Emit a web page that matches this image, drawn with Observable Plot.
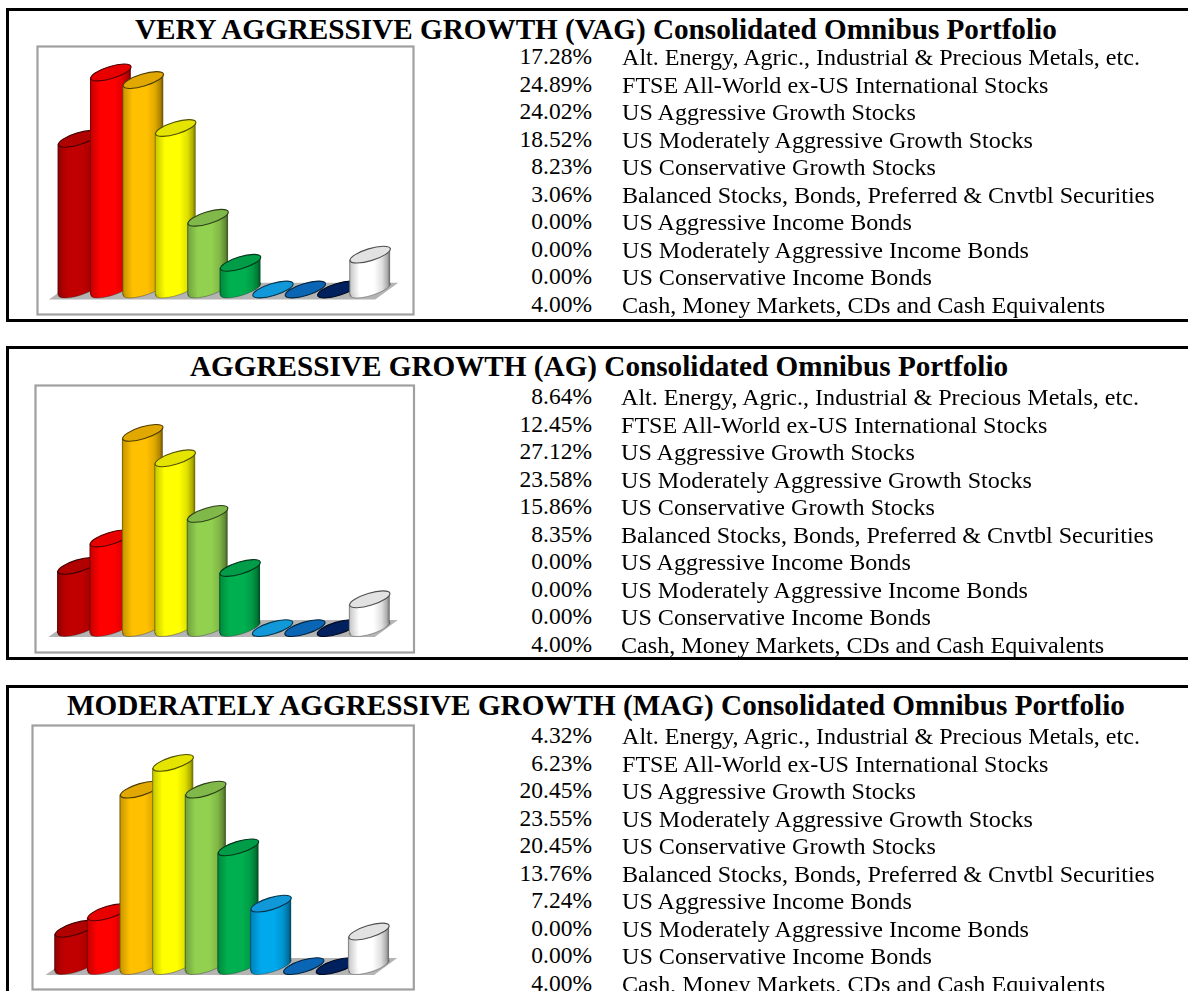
<!DOCTYPE html>
<html>
<head>
<meta charset="utf-8">
<script src="https://cdn.jsdelivr.net/npm/d3@7"></script>
<script src="https://cdn.jsdelivr.net/npm/@observablehq/plot@0.6"></script>
<style>
html,body{margin:0;padding:0;background:#fff;overflow:hidden;width:1188px;height:991px}
#page{position:relative;width:1188px;height:991px;overflow:hidden;font-family:"Liberation Serif",serif;color:#000}
.panel{position:absolute;left:6px;width:1300px;border:3px solid #000;box-sizing:border-box}
.title{position:absolute;font-weight:bold;white-space:nowrap;transform-origin:left center;line-height:1}
.row{position:absolute;white-space:nowrap;line-height:1;transform-origin:left center}
.pct{position:absolute;white-space:nowrap;line-height:1;text-align:right;transform-origin:right center}
.chart{position:absolute}
.chart svg{display:block;overflow:visible;filter:blur(0.45px)}
g[aria-label="rect"] rect{transform-box:fill-box;transform-origin:center;transform:skewY(-15.6deg)}
</style>
</head>
<body>
<div id="page"></div>
<script>
const categories = [
  "Alt. Energy, Agric., Industrial & Precious Metals, etc.",
  "FTSE All-World ex-US International Stocks",
  "US Aggressive Growth Stocks",
  "US Moderately Aggressive Growth Stocks",
  "US Conservative Growth Stocks",
  "Balanced Stocks, Bonds, Preferred & Cnvtbl Securities",
  "US Aggressive Income Bonds",
  "US Moderately Aggressive Income Bonds",
  "US Conservative Income Bonds",
  "Cash, Money Markets, CDs and Cash Equivalents"
];
const vagValues = [17.28, 24.89, 24.02, 18.52, 8.23, 3.06, 0, 0, 0, 4];
const agValues  = [8.64, 12.45, 27.12, 23.58, 15.86, 8.35, 0, 0, 0, 4];
const magValues = [4.32, 6.23, 20.45, 23.55, 20.45, 13.76, 7.24, 0, 0, 4];
const titles = [
  "VERY AGGRESSIVE GROWTH (VAG) Consolidated Omnibus Portfolio",
  "AGGRESSIVE GROWTH (AG) Consolidated Omnibus Portfolio",
  "MODERATELY AGGRESSIVE GROWTH (MAG) Consolidated Omnibus Portfolio"
];
const barColors = ["#c00000","#ff0000","#ffc000","#ffff00","#92d050","#00b050","#00a8ec","#0070c0","#002060","#ffffff"];
const capColors = ["#b00000","#e80000","#e0a800","#e4e400","#80b84a","#009c48","#1198d8","#0a66b4","#00205e","#e2e2e2"];

const layouts = [
  {frame:[8,314], box:[36,45,378,270], c:[78,369.7], y0:289, ppu:8.72, floorY:[-1.2,0.72], titleY:30, titleX:135, firstRow:58, pctR:592, txtL:622},
  {frame:[346,314], box:[33.5,384,380.5,269], c:[77,368.8], y0:627.6, ppu:7.2, floorY:[-1.3,1.05], titleY:367, titleX:190, firstRow:398, pctR:592, txtL:621},
  {frame:[685,340], box:[30.7,724,383.3,266], c:[74.5,368.2], y0:965.6, ppu:8.63, floorY:[-1.09,0.88], titleY:706, titleX:67, firstRow:737, pctR:592, txtL:622}
];
const series = [vagValues, agValues, magValues];
const floorX = [-0.9, -0.16, 9.17, 9.88];
const rowStep = 27.5, halfWidth = 0.63, major = 21;
const textFont = 24, pctFont = 23.5, titleFont = 29.2, textSX = 1.004;

// tilted ellipse symbol
const tilted = {draw(ctx, size){
  const a = Math.sqrt(size/Math.PI), b = a*0.286, t = -17*Math.PI/180, k = 0.5523;
  const P = (u,v)=>[u*Math.cos(t)-v*Math.sin(t), u*Math.sin(t)+v*Math.cos(t)];
  const seg = (p1,p2,p3)=>ctx.bezierCurveTo(...P(...p1),...P(...p2),...P(...p3));
  ctx.moveTo(...P(a,0));
  seg([a,k*b],[k*a,b],[0,b]); seg([-k*a,b],[-a,k*b],[-a,0]);
  seg([-a,-k*b],[-k*a,-b],[0,-b]); seg([k*a,-b],[a,-k*b],[a,0]);
  ctx.closePath();
}};

// shared gradients
const NS = "http://www.w3.org/2000/svg";
const defsSvg = document.createElementNS(NS,"svg");
defsSvg.setAttribute("width",0); defsSvg.setAttribute("height",0);
defsSvg.style.position="absolute";
const defs = defsSvg.appendChild(document.createElementNS(NS,"defs"));
barColors.forEach((col,i)=>{
  const g = defs.appendChild(document.createElementNS(NS,"linearGradient"));
  g.id = "barGrad"+i;
  const dk = t => d3.interpolateRgb(col,"#000")(t);
  const stops = [[0,dk(.6)],[.04,dk(.2)],[.25,col],[.6,col],[.8,dk(.12)],[.93,dk(.32)],[1,dk(.6)]];
  stops.forEach(([o,c])=>{
    const s = g.appendChild(document.createElementNS(NS,"stop"));
    s.setAttribute("offset",o); s.setAttribute("stop-color",c);
  });
});
document.body.appendChild(defsSvg);

const page = document.getElementById("page");
layouts.forEach((L,p)=>{
  const values = series[p];
  const panel = document.createElement("div");
  panel.className="panel"; panel.style.top=L.frame[0]+"px"; panel.style.height=L.frame[1]+"px";
  page.appendChild(panel);

  const title = document.createElement("div");
  title.className="title"; title.textContent=titles[p];
  title.style.cssText += `left:${L.titleX}px;top:${L.titleY-titleFont/2}px;font-size:${titleFont}px`;
  page.appendChild(title);

  categories.forEach((c,i)=>{
    const yc = L.firstRow + i*rowStep - 0.6;
    const pct = document.createElement("div");
    pct.className="pct"; pct.textContent=values[i].toFixed(2)+"%";
    pct.style.cssText += `right:${1188-L.pctR}px;top:${yc-textFont/2}px;font-size:${pctFont}px`;
    page.appendChild(pct);
    const row = document.createElement("div");
    row.className="row"; row.textContent=c;
    row.style.cssText += `left:${L.txtL}px;top:${yc-textFont/2}px;font-size:${textFont}px;transform:scaleX(${textSX})`;
    page.appendChild(row);
  });

  const [bx,by,bw,bh] = L.box;
  const maxV = d3.max(values);
  const data = values.map((v,i)=>({i,v,name:categories[i]}));
  const floor = floorX.map((x,j)=>({x, y1:j===3?L.floorY[1]:L.floorY[0], y2:j===0?L.floorY[0]:L.floorY[1]}));
  const columnMarks = data.flatMap(d=>{
    const m = [];
    if (d.v>0) {
      m.push(Plot.dot([d],{x:"i",y:()=>0,r:major,symbol:tilted,fill:`url(#barGrad${d.i})`,stroke:"#222",strokeOpacity:.45,strokeWidth:.8}));
      m.push(Plot.rect([d],{x1:e=>e.i-halfWidth,x2:e=>e.i+halfWidth,y1:()=>0,y2:"v",fill:`url(#barGrad${d.i})`}));
    }
    m.push(Plot.dot([d],{x:"i",y:"v",r:major,symbol:tilted,fill:capColors[d.i],stroke:d3.interpolateRgb(capColors[d.i],"#000")(.65),strokeWidth:1.1}));
    return m;
  });
  const chart = Plot.plot({
    width:bw,height:bh,margin:0,
    x:{domain:[0,9],range:[L.c[0]-bx,L.c[1]-bx],axis:null},
    y:{domain:[0,maxV],range:[L.y0-by,L.y0-by-L.ppu*maxV],axis:null},
    marks:[
      Plot.frame({stroke:"#a0a0a0",strokeWidth:2.2,inset:1}),
      Plot.areaY(floor,{x:"x",y1:"y1",y2:"y2",fill:"#b4b4b4"}),
      ...columnMarks
    ]
  });
  const holder = document.createElement("div");
  holder.className="chart"; holder.style.left=bx+"px"; holder.style.top=by+"px";
  holder.appendChild(chart);
  page.appendChild(holder);
});
</script>
</body>
</html>
